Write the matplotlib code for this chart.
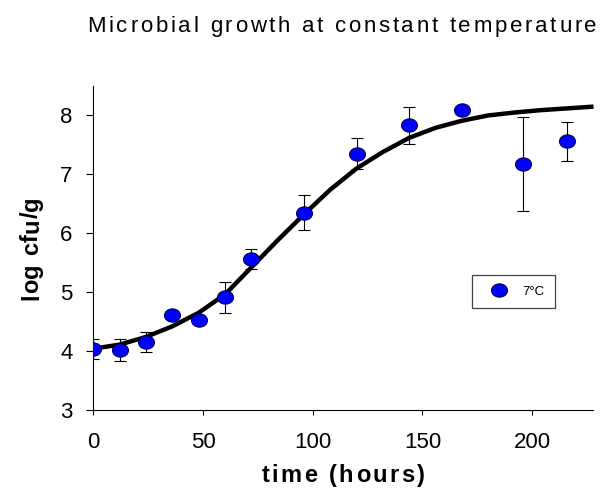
import matplotlib
matplotlib.use("Agg")
import matplotlib.pyplot as plt
from matplotlib.lines import Line2D
from matplotlib.path import Path
from matplotlib.transforms import Affine2D

# measured counts (mean +/- sd) at 7 C
hours = [0, 12, 24, 36, 48, 60, 72, 96, 120, 144, 168, 196, 216]
log_cfu = [4.04, 4.02, 4.15, 4.62, 4.53, 4.91, 5.56, 6.35, 7.35, 7.83, 8.10, 7.18, 7.56]
sd = [0.17, 0.18, 0.17, 0.0, 0.0, 0.27, 0.17, 0.30, 0.26, 0.31, 0.0, 0.80, 0.33]

# fitted growth curve
fit_hours = [0, 12, 24, 36, 48, 60, 72, 84, 96, 108, 120, 132, 144, 156, 168,
             180, 192, 204, 216, 228]
fit_log = [4.04, 4.11, 4.24, 4.42, 4.65, 4.96, 5.42, 5.88, 6.32, 6.74, 7.10,
           7.38, 7.62, 7.79, 7.91, 8.00, 8.05, 8.09, 8.12, 8.15]

x_ticks = [0, 50, 100, 150, 200]
y_ticks = [3, 4, 5, 6, 7, 8]

W, H = 611, 488
plt.rcParams['font.family'] = ['Liberation Sans', 'DejaVu Sans']

fig = plt.figure(figsize=(W / 100, H / 100), dpi=100)
ax = fig.add_axes([93.3 / W, 1 - 410 / H, 500.2 / W, 324 / H])

# slightly squashed dot, like the original plotting package
ellipse = Path.unit_circle().transformed(Affine2D().scale(1, 0.83))

ax.errorbar(hours, log_cfu, yerr=sd, fmt='none', ecolor='black',
            elinewidth=0.8, capsize=4.6, capthick=0.8, zorder=2)
ax.plot(fit_hours, fit_log, color='black', lw=3.2, solid_capstyle='butt', zorder=3)
ax.plot(hours, log_cfu, linestyle='none', marker=ellipse, markersize=11.5,
        markerfacecolor='#0000ff', markeredgecolor='#000050',
        markeredgewidth=0.8, zorder=4)

ax.set_xlim(0, 228)
ax.set_ylim(3, 8.5)
ax.set_xticks(x_ticks)
ax.set_yticks(y_ticks)
for s in ['top', 'right']:
    ax.spines[s].set_visible(False)
for s in ['left', 'bottom']:
    ax.spines[s].set_linewidth(0.8)
ax.tick_params(axis='y', direction='out', length=5, width=0.8, pad=10, labelsize=16)
ax.tick_params(axis='x', direction='out', length=3.6, width=0.8, pad=12, labelsize=16)

handle = Line2D([], [], linestyle='none', marker=ellipse, markersize=11.5,
                markerfacecolor='#0000ff', markeredgecolor='#000050',
                markeredgewidth=0.8)
leg = ax.legend([handle], ['7°C'], loc='lower left', bbox_to_anchor=(0.758, 0.316),
                borderaxespad=0, fontsize=9.5, borderpad=0.76, handlelength=2.5,
                handletextpad=0.55, fancybox=False, framealpha=1,
                edgecolor='#444444')
leg.get_frame().set_linewidth(0.9)


def spaced_text(xc, y, s, gap, rotation=0, **kw):
    """Draw s one glyph at a time with extra letter spacing (pixels).
    xc, y: centre of the string and its baseline, in figure pixels."""
    r = fig.canvas.get_renderer()

    def width(t):
        tt = fig.text(0, 0, t + '|', **kw)
        w = tt.get_window_extent(r).width
        tt.remove()
        return w

    bar = width('')
    adv = [width(s[:i]) - bar if i else 0 for i in range(len(s) + 1)]
    total = adv[-1] + gap * (len(s) - 1)
    for i, ch in enumerate(s):
        if ch == ' ':
            continue
        off = -total / 2 + adv[i] + gap * i
        if rotation == 90:
            fig.text(xc / W, 1 - (y - off) / H, ch, rotation=90,
                     rotation_mode='anchor', ha='left', va='baseline', **kw)
        else:
            fig.text((xc + off) / W, 1 - y / H, ch, ha='left', va='baseline', **kw)


spaced_text(342, 32.3, 'Microbial growth at constant temperature', 2.7, fontsize=16)
spaced_text(343, 482, 'time (hours)', 2.4, fontsize=17, fontweight='bold')
# rotated label: xc is the baseline x, y is the vertical centre
spaced_text(38, 248, 'log cfu/g', 0.6, rotation=90, fontsize=17, fontweight='bold')

fig.savefig('out.png', dpi=100)
